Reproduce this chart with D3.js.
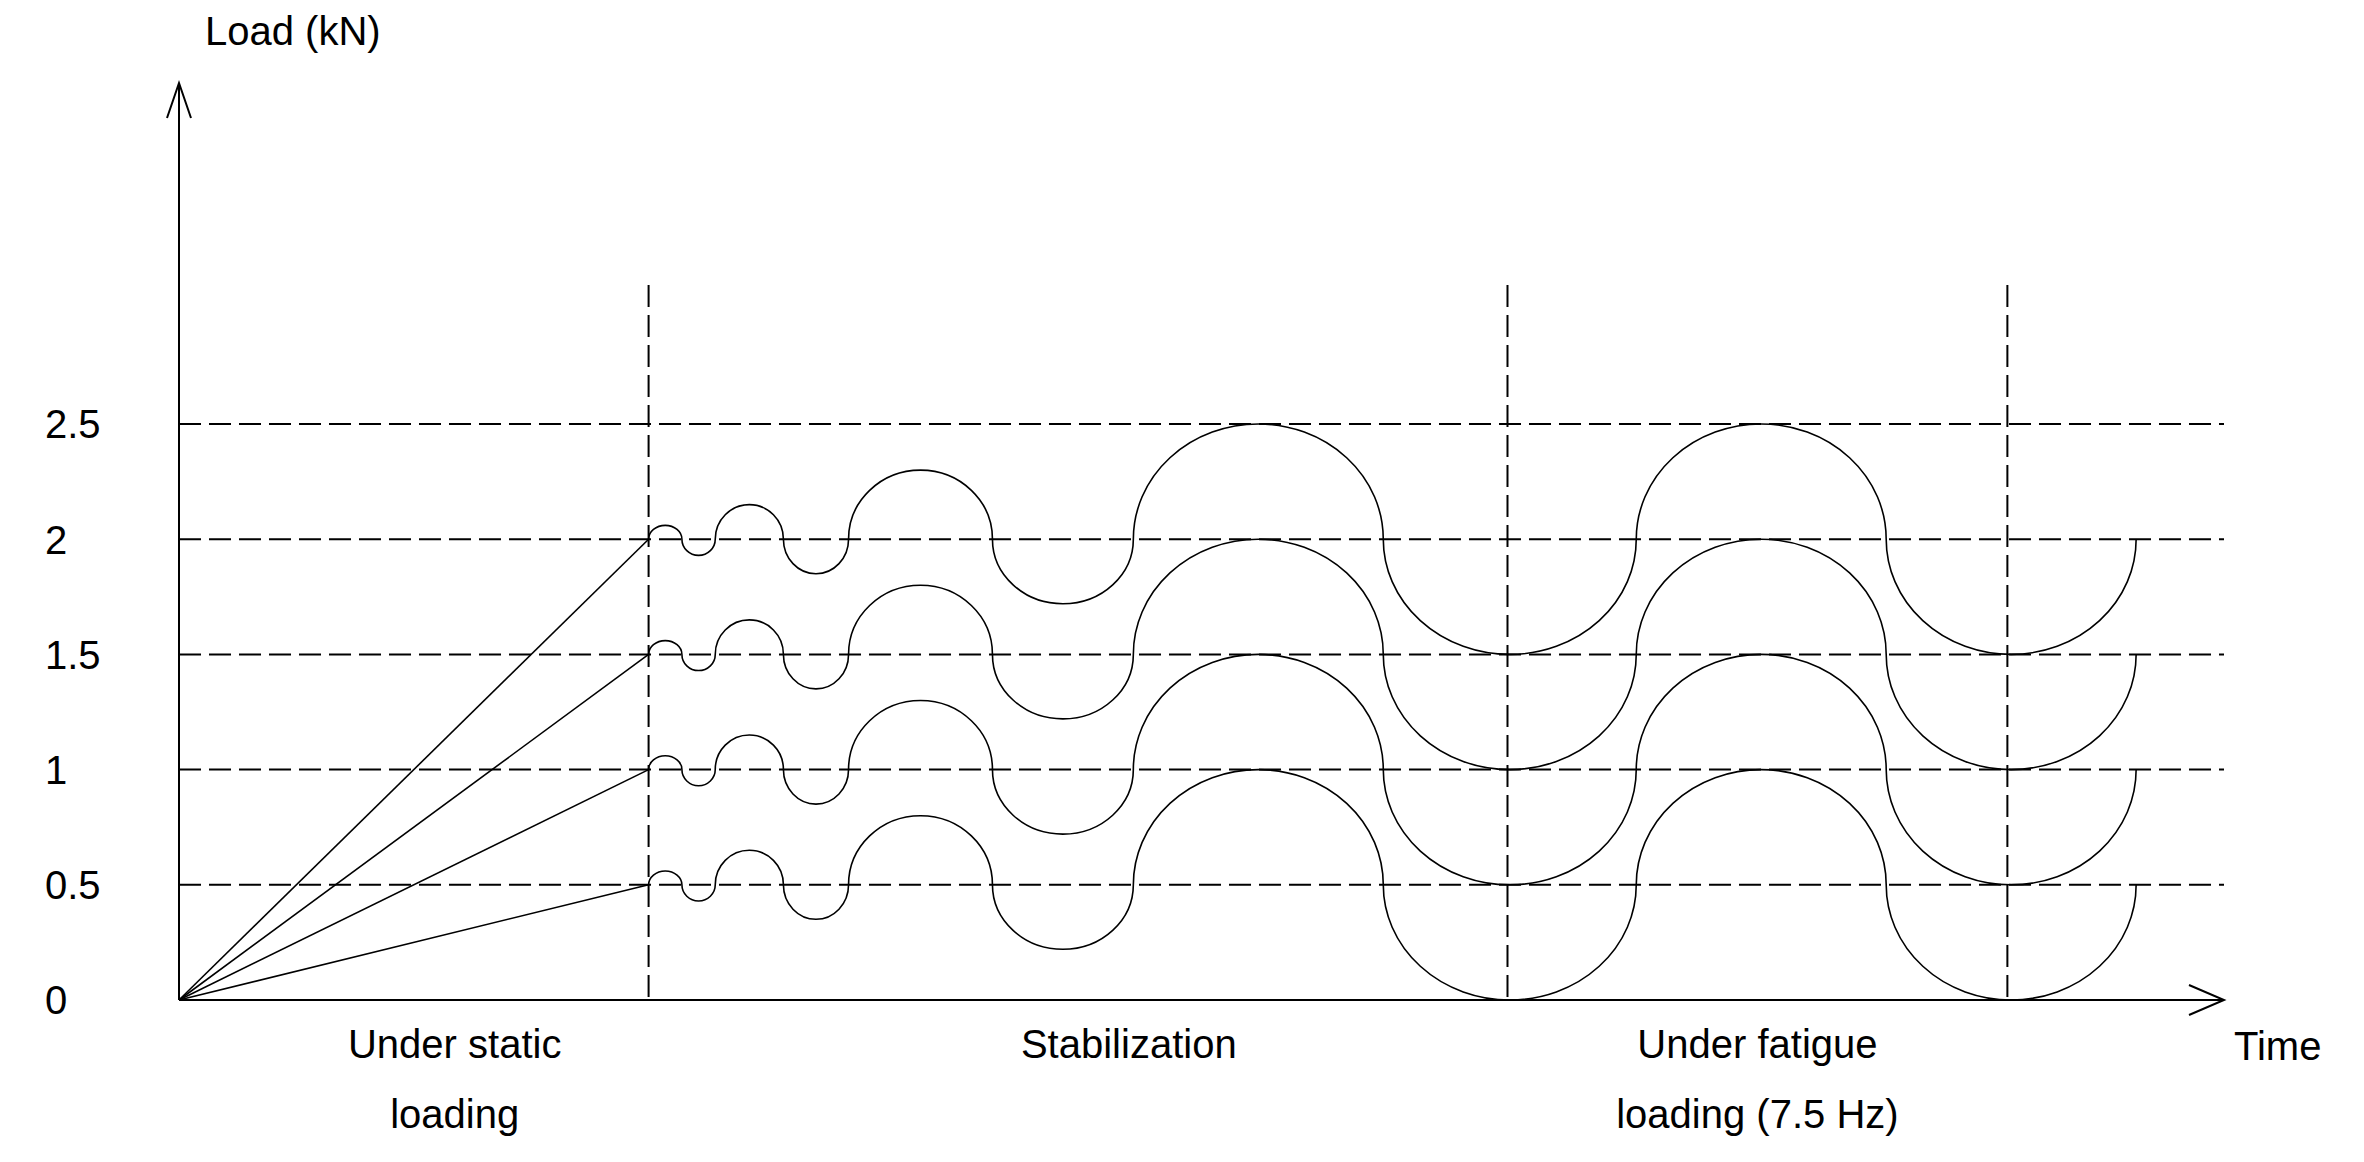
<!DOCTYPE html>
<html><head><meta charset="utf-8">
<script src="https://cdn.jsdelivr.net/npm/d3@7"></script>
<style>body{margin:0;background:#fff}text{font-family:"Liberation Sans",Arial,sans-serif;fill:#000}</style>
</head><body><svg id="c" width="2364" height="1162"></svg>
<script>
// Schematic loading protocol: static ramp, stabilization, fatigue cycles.
const levels = [0.5, 1, 1.5, 2];
const yTicks = [0, 0.5, 1, 1.5, 2, 2.5];
const phaseBounds = [310, 877, 1207];        // time of dashed vertical separators
const rampEnd = 310;
// half-waves around each level: level crossings and peak/trough offset
const crossTimes = [310, 332, 354, 399, 442, 537, 630, 795, 962, 1127, 1292];
const halfDeltas = [0.06, -0.07, 0.15, -0.15, 0.3, -0.28, 0.5, -0.5, 0.5, -0.5];
const phaseLabels = [
  {t: 182, lines: ['Under static', 'loading']},
  {t: 627, lines: ['Stabilization']},
  {t: 1042, lines: ['Under fatigue', 'loading (7.5 Hz)']}
];

const svg = d3.select('#c');
const x = d3.scaleLinear().domain([0, 1350]).range([179, 2224]);
const y = d3.scaleLinear().domain([0, 2.5]).range([1000, 424]);

// dashed grid
svg.append('g').selectAll('line').data(yTicks.slice(1)).join('line')
  .attr('x1', x(0)).attr('x2', x(1350)).attr('y1', d => y(d)).attr('y2', d => y(d))
  .attr('stroke', '#000').attr('stroke-width', 2).attr('stroke-dasharray', '22,8');
svg.append('g').selectAll('line').data(phaseBounds).join('line')
  .attr('x1', d => x(d)).attr('x2', d => x(d)).attr('y1', 285).attr('y2', y(0))
  .attr('stroke', '#000').attr('stroke-width', 2).attr('stroke-dasharray', '22,8');

// axes with arrows
svg.append('path').attr('d', `M${x(0)},${y(0)}V83M${x(0)-12},118L${x(0)},83L${x(0)+12},118`)
  .attr('fill', 'none').attr('stroke', '#000').attr('stroke-width', 2);
svg.append('path').attr('d', `M${x(0)},${y(0)}H${x(1350)}M${x(1350)-35},${y(0)-15}L${x(1350)},${y(0)}L${x(1350)-35},${y(0)+15}`)
  .attr('fill', 'none').attr('stroke', '#000').attr('stroke-width', 2);

svg.append('g').selectAll('text').data(yTicks).join('text')
  .attr('x', 45).attr('y', d => y(d)).attr('dy', '0.36em')
  .attr('font-size', 40).text(d => d);
svg.append('text').attr('x', 205).attr('y', 45).attr('font-size', 40).text('Load (kN)');
svg.append('text').attr('x', 2234).attr('y', 1060).attr('font-size', 40).text('Time');

phaseLabels.forEach(p => {
  svg.append('text').attr('x', x(p.t)).attr('y', 1058).attr('text-anchor', 'middle')
    .attr('font-size', 40)
    .selectAll('tspan').data(p.lines).join('tspan')
    .attr('x', x(p.t)).attr('dy', (d, i) => i ? 70 : 0).text(d => d);
});

// load paths: ramp, then half-ellipse arcs between level crossings
levels.forEach(b => {
  svg.append('path').attr('d', `M${x(0)},${y(0)}L${x(rampEnd)},${y(b)}`)
    .attr('stroke', '#000').attr('stroke-width', 1.6);
  const path = d3.path();
  path.moveTo(x(crossTimes[0]), y(b));
  let d = `M${x(crossTimes[0])},${y(b)}`;
  halfDeltas.forEach((a, i) => {
    const rx = (x(crossTimes[i + 1]) - x(crossTimes[i])) / 2;
    const ry = Math.abs(y(b + a) - y(b));
    d += `A${rx},${ry} 0 0 ${a > 0 ? 1 : 0} ${x(crossTimes[i + 1])},${y(b)}`;
  });
  svg.append('path').attr('d', d).attr('fill', 'none')
    .attr('stroke', '#000').attr('stroke-width', 1.6);
});
</script></body></html>
